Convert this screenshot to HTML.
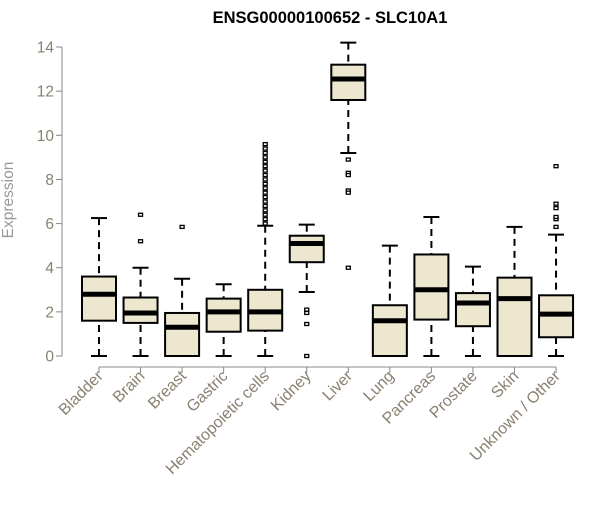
<!DOCTYPE html>
<html><head><meta charset="utf-8"><style>body{margin:0;background:#fff}svg{font-family:"Liberation Sans",sans-serif}</style></head>
<body>
<svg id="c" width="600" height="500"></svg>
<script>
const categories=["Bladder","Brain","Breast","Gastric","Hematopoietic cells","Kidney","Liver","Lung","Pancreas","Prostate","Skin","Unknown / Other"];
const whiskerLow=[0,0,0,0,0,2.9,9.2,0,0,0,0,0];
const q1=[1.6,1.5,0,1.1,1.15,4.25,11.6,0,1.65,1.35,0,0.85];
const median=[2.8,1.95,1.3,2.0,2.0,5.1,12.55,1.6,3.0,2.4,2.6,1.9];
const q3=[3.6,2.65,1.95,2.6,3.0,5.45,13.2,2.3,4.6,2.85,3.55,2.75];
const whiskerHigh=[6.25,4.0,3.5,3.25,5.9,5.95,14.2,5.0,6.3,4.05,5.85,5.5];
const outliers=[[],[5.2,6.4],[5.85],[],[6.0,6.2,6.4,6.6,6.8,7.0,7.2,7.4,7.6,7.8,8.0,8.2,8.4,8.6,8.8,9.0,9.2,9.4,9.6],[0,1.45,1.95,2.1],[8.9,8.3,8.2,7.5,7.4,4.0],[],[],[],[],[5.85,6.2,6.3,6.7,6.9,8.6]];
const yTicks=[0,2,4,6,8,10,12,14];
const NS="http://www.w3.org/2000/svg",svg=document.getElementById("c");
const y=v=>356-v*22.07, x=i=>99+i*41.55;
function mk(t,a,p){const e=document.createElementNS(NS,t);for(const k in a)e.setAttribute(k,a[k]);(p||svg).appendChild(e);return e;}
const title=mk("text",{x:330,y:23,"text-anchor":"middle","font-size":16.5,"font-weight":"bold"});title.textContent="ENSG00000100652 - SLC10A1";


const yax=mk("g",{});


mk("line",{x1:62,x2:62,y1:y(0),y2:y(14),stroke:"#888"},yax);
yTicks.forEach(t=>{mk("line",{x1:56,x2:62,y1:y(t),y2:y(t),stroke:"#888"},yax);const l=mk("text",{x:54,y:y(t)+5.5,"text-anchor":"end","font-size":15.5,fill:"#8a8070"},yax);l.textContent=t;});
const yt=mk("text",{x:13,y:200,"text-anchor":"middle","font-size":15.5,fill:"#999",transform:"rotate(-90 13 200)"});yt.textContent="Expression";


mk("line",{x1:x(0),x2:x(11),y1:367,y2:367,stroke:"#888"});
categories.forEach((c,i)=>{
 const g=mk("g",{});
 
 
 const cx=x(i),w=17;
 mk("line",{x1:cx,x2:cx,y1:y(whiskerLow[i]),y2:y(q1[i]),stroke:"#000","stroke-width":2,"stroke-dasharray":"7,5"},g);
 mk("line",{x1:cx,x2:cx,y1:y(whiskerHigh[i]),y2:y(q3[i]),stroke:"#000","stroke-width":2,"stroke-dasharray":"7,5"},g);
 mk("line",{x1:cx-8,x2:cx+8,y1:y(whiskerLow[i]),y2:y(whiskerLow[i]),stroke:"#000","stroke-width":2},g);
 mk("line",{x1:cx-8,x2:cx+8,y1:y(whiskerHigh[i]),y2:y(whiskerHigh[i]),stroke:"#000","stroke-width":2},g);
 mk("rect",{x:cx-w,y:y(q3[i]),width:2*w,height:Math.max(y(q1[i])-y(q3[i]),0),fill:"#ede7d0",stroke:"#000","stroke-width":2},g);
 mk("line",{x1:cx-w,x2:cx+w,y1:y(median[i]),y2:y(median[i]),stroke:"#000","stroke-width":5},g);
 outliers[i].forEach(o=>mk("rect",{x:cx-2,y:y(o)-1.5,width:4,height:3,fill:"#fff",stroke:"#000","stroke-width":1.3},g));
 mk("line",{x1:cx,x2:cx,y1:367,y2:373,stroke:"#888"});
 const l=mk("text",{x:cx+5,y:377,"text-anchor":"end","font-size":16,fill:"#8a8070",transform:`rotate(-45 ${cx+5} 377)`});
 l.textContent=c;
 
 
});
</script>
</body></html>
